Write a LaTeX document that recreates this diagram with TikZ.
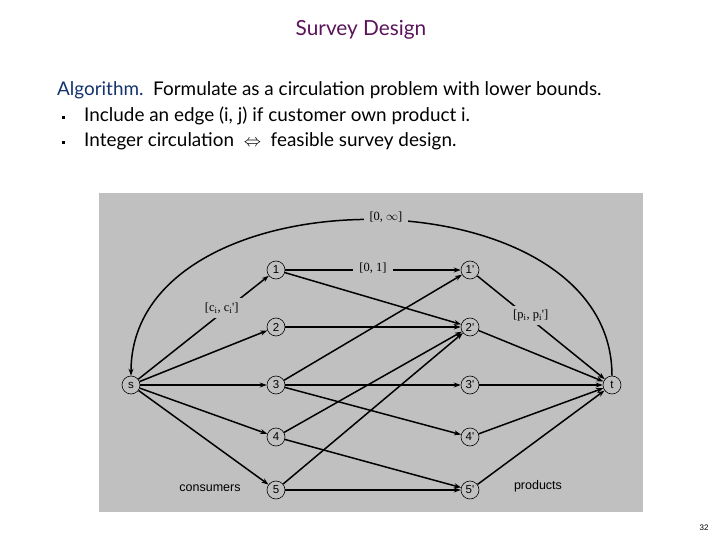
\documentclass[tikz,border=0pt]{standalone}
\usepackage{fontspec}
\setmainfont{Lato}
\newfontfamily\lblfont{Liberation Serif}
\newfontfamily\smallsans{Liberation Sans}
\usetikzlibrary{arrows.meta}
\definecolor{bgcol}{RGB}{192,192,192}
\definecolor{titlecol}{RGB}{90,20,90}
\definecolor{algcol}{RGB}{20,50,110}
\begin{document}
\begin{tikzpicture}[x=1pt,y=-1pt,
  vtx/.style={circle, draw, line width=0.6pt, minimum size=18pt, inner sep=0pt, font=\smallsans\fontsize{11.5}{11.5}\selectfont},
  e/.style={line width=1.5pt, -{Stealth[length=7pt,width=5pt]}},
  lab/.style={fill=bgcol, inner xsep=6pt, inner ysep=4pt, font=\lblfont\fontsize{12.5}{12.5}\selectfont},
  body/.style={anchor=west, inner sep=0pt, font=\fontsize{18.9}{18.9}\selectfont},
  bul/.style={fill=black, minimum size=3pt, inner sep=0pt}]
\useasboundingbox (0,0) rectangle (720,540);
\node[inner sep=0pt, text=titlecol, font=\fontsize{20.8}{20.8}\selectfont] (title) at (361,30) {Survey Design};
\node[body] (alg) at (57,90) {\textcolor{algcol}{Algorithm.}\ \ Formulate as a circulation problem with lower bounds.};
\node[bul] (b1) at (63,118) {};
\node[body] (l1) at (84,116) {Include an edge (i, j) if customer own product i.};
\node[bul] (b2) at (63,143) {};
\node[body] (l2) at (84,141) {Integer circulation \ $\Leftrightarrow$\ \ feasible survey design.};
\fill[bgcol] (99,193) rectangle (643,512);
\node[vtx] (s) at (131,385) {s};
\node[vtx] (t) at (612,385) {t};
\foreach \i/\y in {1/270,2/327,3/385,4/437,5/490}{
  \node[vtx] (c\i) at (276,\y) {\i};
  \node[vtx] (p\i) at (470,\y) {\i'};
}
\draw[e] (t) .. controls (612,168) and (131,168) .. (s) node[lab, pos=0.48, yshift=3pt] {[0, $\infty$]};
\draw[e] (s) -- (c1) node[lab, pos=0.64, yshift=5pt, inner ysep=5pt] {[c\textsubscript{i}, c\textsubscript{i}']};
\foreach \i in {2,3,4,5} \draw[e] (s) -- (c\i);
\draw[e] (c1) -- (p1) node[lab, pos=0.5, yshift=2pt] {[0, 1]};
\draw[e] (c1) -- (p2);
\draw[e] (c2) -- (p2);
\draw[e] (c3) -- (p1);
\draw[e] (c3) -- (p3);
\draw[e] (c3) -- (p4);
\draw[e] (c4) -- (p2);
\draw[e] (c4) -- (p5);
\draw[e] (c5) -- (p2);
\draw[e] (c5) -- (p5);
\draw[e] (p1) -- (t) node[lab, pos=0.42, yshift=4pt] {[p\textsubscript{i}, p\textsubscript{i}']};
\foreach \i in {2,3,4,5} \draw[e] (p\i) -- (t);
\node[font=\smallsans\fontsize{12.5}{12.5}\selectfont, inner sep=0pt] (cons) at (210,488) {consumers};
\node[font=\smallsans\fontsize{12.5}{12.5}\selectfont, inner sep=0pt] (prod) at (538,486) {products};
\node[font=\smallsans\fontsize{8}{8}\selectfont, inner sep=0pt] (pg) at (704,528) {32};
\end{tikzpicture}
\end{document}
